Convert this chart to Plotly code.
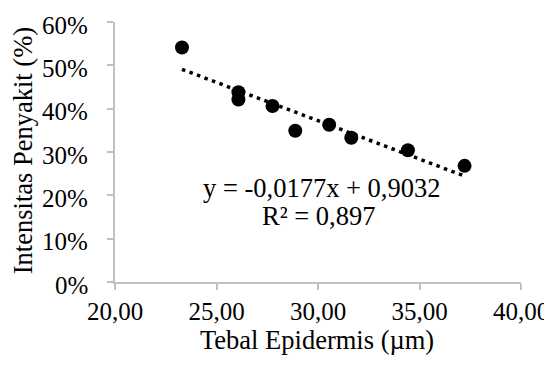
import plotly.graph_objects as go

# Data
tebal_epidermis = [23.30, 26.08, 26.08, 27.76, 28.88, 30.55, 31.64, 34.43, 37.22]
intensitas = [0.541, 0.438, 0.421, 0.406, 0.349, 0.363, 0.333, 0.304, 0.268]
slope = -0.0177
intercept = 0.9032
r2_text = "0,897"

x_ticks = [20, 25, 30, 35, 40]
x_tick_labels = ["20,00", "25,00", "30,00", "35,00", "40,00"]
y_ticks = [0, 0.1, 0.2, 0.3, 0.4, 0.5, 0.6]
y_tick_labels = ["0%", "10%", "20%", "30%", "40%", "50%", "60%"]

x_min, x_max = min(tebal_epidermis), max(tebal_epidermis)
trend_x = [x_min, x_max]
trend_y = [slope * v + intercept for v in trend_x]

FONT = "Liberation Serif, Times New Roman, serif"
AXIS_COLOR = "#bfbfbf"
FS_TICK = 25
FS_TEXT = 26.5

fig = go.Figure()
fig.add_trace(go.Scatter(
    x=tebal_epidermis, y=intensitas, mode="markers",
    marker=dict(color="black", size=14, line=dict(width=0)),
    showlegend=False, hoverinfo="skip"))
fig.add_trace(go.Scatter(
    x=trend_x, y=trend_y, mode="lines",
    line=dict(color="black", width=3.5, dash="3.5px,4.5px"),
    showlegend=False, hoverinfo="skip"))

fig.add_annotation(
    x=30.15, y=0.216, xref="x", yref="y",
    text="y = -0,0177x + 0,9032", showarrow=False,
    font=dict(family=FONT, size=FS_TEXT, color="black"))
fig.add_annotation(
    x=30.0, y=0.152, xref="x", yref="y",
    text="R² = " + r2_text, showarrow=False,
    font=dict(family=FONT, size=FS_TEXT, color="black"))

# y tick labels (placed with a wider gap from the ticks, as in the reference)
for val, lab in zip(y_ticks, y_tick_labels):
    fig.add_annotation(
        x=-0.0616, y=val, xref="paper", yref="y", text=lab,
        showarrow=False, xanchor="right", yanchor="middle", yshift=-3,
        font=dict(family=FONT, size=FS_TICK, color="black"))

# axis titles
fig.add_annotation(
    x=-0.2268, y=0.5065, xref="paper", yref="paper",
    text="Intensitas Penyakit (%)", textangle=-90, showarrow=False,
    xanchor="center", yanchor="middle",
    font=dict(family=FONT, size=FS_TEXT, color="black"))
fig.add_annotation(
    x=0.4967, y=-0.224, xref="paper", yref="paper",
    text="Tebal Epidermis (µm)", showarrow=False,
    xanchor="center", yanchor="middle",
    font=dict(family=FONT, size=FS_TEXT, color="black"))

fig.update_layout(
    width=544, height=357,
    margin=dict(l=107, r=31.3, t=13.7, b=83.3, autoexpand=False),
    paper_bgcolor="white", plot_bgcolor="white",
    font=dict(family=FONT, size=FS_TICK, color="black"),
    xaxis=dict(
        range=[20, 40], tickvals=x_ticks, ticktext=x_tick_labels,
        showgrid=False, zeroline=False, automargin=False,
        showline=True, linecolor=AXIS_COLOR, linewidth=1.5,
        ticks="outside", ticklen=6, tickcolor=AXIS_COLOR, tickwidth=1.5,
        tickfont=dict(family=FONT, size=FS_TICK, color="black"),
    ),
    yaxis=dict(
        range=[0, 0.6], tickvals=y_ticks, showticklabels=False,
        showgrid=False, zeroline=False, automargin=False,
        showline=True, linecolor=AXIS_COLOR, linewidth=1.5,
        ticks="outside", ticklen=6, tickcolor=AXIS_COLOR, tickwidth=1.5,
    ),
)

fig.write_html("out.html")
